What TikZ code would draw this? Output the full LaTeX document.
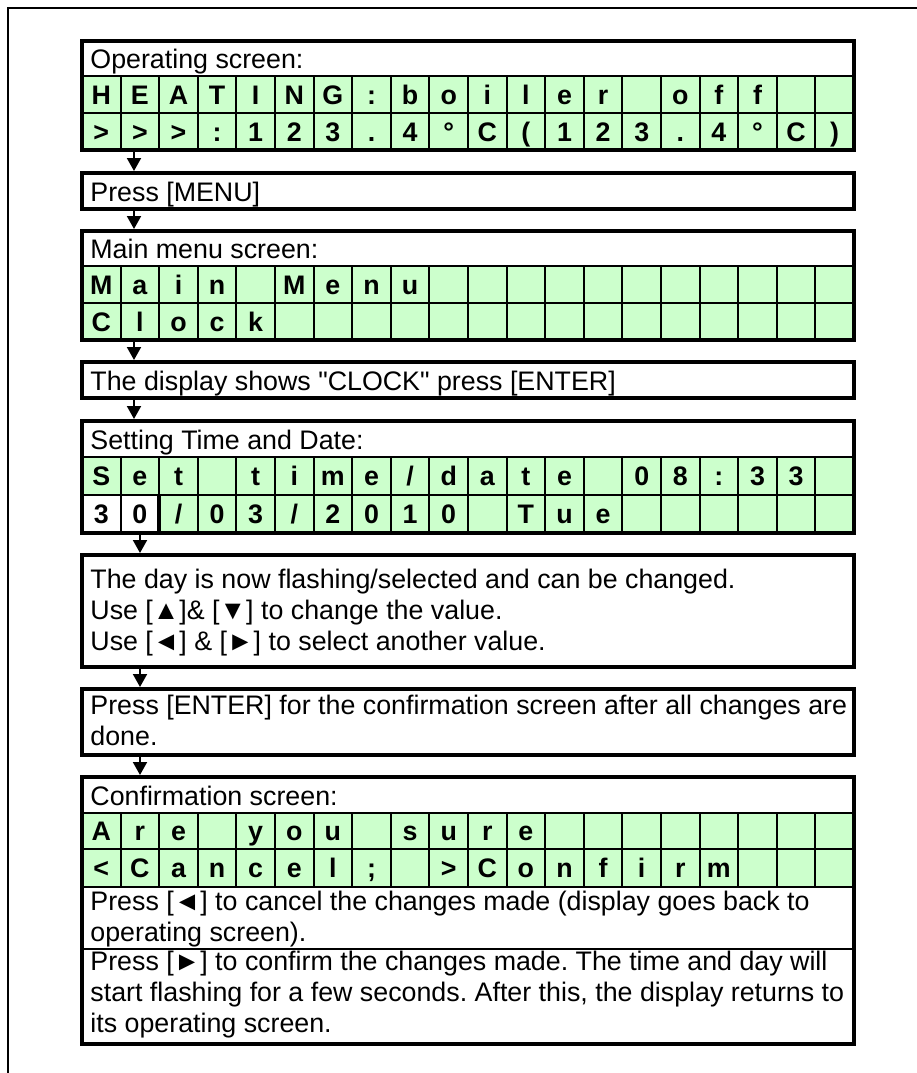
\documentclass[tikz,border=0pt]{standalone}
\usepackage{fontspec}
\setmainfont{Liberation Sans}[Ligatures=TeXOff]
\usetikzlibrary{arrows.meta}
\definecolor{lcdgreen}{RGB}{204,255,204}
\newcommand\manualfont{\fontsize{13.4}{15.4}\selectfont}
\frenchspacing
\def\BoxL{82}
\def\BoxR{854}
\def\CellW{38.6}

% [white cells]{name}{top}{bottom}{characters}
\newcommand\lcdrow[5][0]{%
  \fill[lcdgreen] ({\BoxL+#1*\CellW},#3) rectangle (\BoxR,#4);
  \foreach \i in {1,...,19}
    \draw[grid] ({\BoxL+\i*\CellW},#3) -- ({\BoxL+\i*\CellW},#4);
  \draw[grid] (\BoxL,#3) -- (\BoxR,#3);
  \foreach \ch [count=\i] in {#5}
    \node[cell] (#2-\i) at ({\BoxL+(\i-0.5)*\CellW},{(#3+#4)/2+9.5}) {\ch};
}

\tikzset{
  panel/.style={draw, line width=2pt, minimum width=386pt, inner sep=0pt},
  grid/.style={line width=1pt},
  cell/.style={anchor=base, inner sep=0pt, font=\manualfont\bfseries},
  txt/.style={anchor=north west, inner sep=0pt, align=left,
    execute at begin node=\strut},
  flow/.style={->, line width=1pt},
}

\begin{document}
\begin{tikzpicture}[x=0.5pt, y=-0.5pt, >={Triangle[width=7pt,length=6.5pt]},
    font=\manualfont]
  \useasboundingbox (0,0) rectangle (917,1073);
  \draw[line width=1pt] (8,1073) -- (8,8) -- (917,8);

  % operating screen
  \node[txt] (optitle) at (90,46.6) {Operating screen:};
  \lcdrow{op1}{76}{113}{H,E,A,T,I,N,G,:,b,o,i,l,e,r,{},o,f,f,{},{}}
  \lcdrow{op2}{113}{150}{>,>,>,:,1,2,3,{.},4,°,C,{(},1,2,3,{.},4,°,C,{)}}
  \node[panel, minimum height=54.5pt] (scr1) at (468,95.5) {};

  \node[txt] (menutext) at (90,179.1) {Press [MENU]};
  \node[panel, minimum height=18pt] (menu) at (468,191) {};

  % main menu
  \node[txt] (mmtitle) at (90,236.6) {Main menu screen:};
  \lcdrow{mm1}{266}{303}{M,a,i,n,{},M,e,n,u,{},{},{},{},{},{},{},{},{},{},{}}
  \lcdrow{mm2}{303}{340}{C,l,o,c,k,{},{},{},{},{},{},{},{},{},{},{},{},{},{},{}}
  \node[panel, minimum height=54.5pt] (scr2) at (468,285.5) {};

  \node[txt] (clocktext) at (90,368.1) {The display shows "CLOCK" press [ENTER]};
  \node[panel, minimum height=18pt] (clock) at (468,380) {};

  % time and date
  \node[txt] (sttitle) at (90,427.1) {Setting Time and Date:};
  \lcdrow{st1}{457}{495}{S,e,t,{},t,i,m,e,/,d,a,t,e,{},0,8,:,3,3,{}}
  \lcdrow[2]{st2}{495}{533}{3,0,/,0,3,/,2,0,1,0,{},T,u,e,{},{},{},{},{},{}}
  \draw[line width=2pt] ({\BoxL+2*\CellW},495) -- ({\BoxL+2*\CellW},533);
  \node[panel, minimum height=56pt] (scr3) at (468,477) {};

  \node[txt] (daytext) at (90,569.1) {The day is now flashing/selected and can be changed.\\
    Use [▲]\& [▼] to change the value.\\
    Use [◄] \& [►] to select another value.};
  \node[panel, minimum height=56pt] (day) at (468,611) {};

  \node[txt] (entertext) at (90,695.1) {Press [ENTER] for the confirmation screen after all changes are\\
    done.};
  \node[panel, minimum height=33pt] (enter) at (468,722) {};

  % confirmation
  \node[txt] (cftitle) at (90,783.1) {Confirmation screen:};
  \lcdrow{cf1}{813}{849}{A,r,e,{},y,o,u,{},s,u,r,e,{},{},{},{},{},{},{},{}}
  \lcdrow{cf2}{849}{887}{<,C,a,n,c,e,l,;,{},>,C,o,n,f,i,r,m,{},{},{}}
  \draw[grid] (\BoxL,887) -- (\BoxR,887);
  \node[txt] (canceltext) at (90,891.1) {Press [◄] to cancel the changes made (display goes back to\\
    operating screen).};
  \draw[grid] (\BoxL,949) -- (\BoxR,949);
  \node[txt] (confirmtext) at (90,951) {Press [►] to confirm the changes made. The time and day will\\
    start flashing for a few seconds. After this, the display returns to\\
    its operating screen.};
  \node[panel, minimum height=133.5pt] (scr4) at (468,910.5) {};

  \coordinate (ax) at (134,0);
  \coordinate (bx) at (140,0);
  \draw[flow] (scr1.south -| ax) -- (menu.north -| ax);
  \draw[flow] (menu.south -| ax) -- (scr2.north -| ax);
  \draw[flow] (scr2.south -| ax) -- (clock.north -| ax);
  \draw[flow] (clock.south -| ax) -- (scr3.north -| ax);
  \draw[flow] (scr3.south -| bx) -- (day.north -| bx);
  \draw[flow] (day.south -| bx) -- (enter.north -| bx);
  \draw[flow] (enter.south -| bx) -- (scr4.north -| bx);
\end{tikzpicture}
\end{document}
